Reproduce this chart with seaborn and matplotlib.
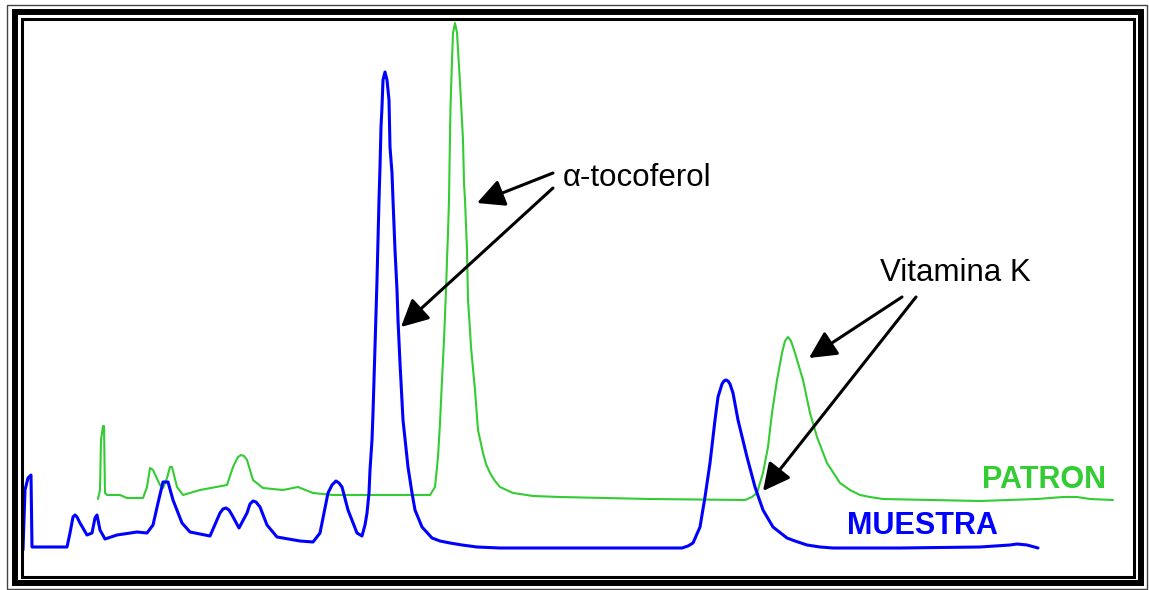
import matplotlib
matplotlib.use("Agg")
import matplotlib.pyplot as plt
from matplotlib.patches import Rectangle
import seaborn as sns
import pandas as pd

# Retention time (s) and detector response (mV) for the sample run
muestra_t = [23, 25, 28, 31, 32, 50, 67, 70, 73, 75, 77, 80, 87, 92, 95, 97, 100, 105, 117,
             137, 147, 153, 158, 163, 168, 173, 182, 190, 210, 220, 223, 226, 229, 232, 239,
             247, 250, 253, 256, 260, 267, 277, 300, 313, 320, 328, 332, 336, 339, 342, 348,
             357, 362, 365, 367, 369, 370, 372, 373, 375, 377, 379, 380, 381, 382, 383, 385,
             387, 389, 390, 392, 393, 395, 397, 398, 400, 403, 408, 412, 415, 422, 432, 440,
             450, 462, 477, 500, 560, 682, 688, 693, 700, 705, 710, 715, 718, 722, 724, 726,
             728, 730, 733, 738, 747, 755, 763, 773, 787, 795, 807, 820, 833, 900, 980, 1010,
             1017, 1027, 1038]
muestra_r = [40, 100, 112, 115, 43, 43, 43, 57, 73, 75, 73, 67, 55, 57, 72, 75, 60, 51, 55,
             58, 57, 65, 87, 108, 108, 90, 67, 58, 54, 77, 81, 82, 80, 75, 62,
             77, 86, 89, 88, 83, 65, 53, 49, 48, 57, 97, 105, 109, 107, 103, 80,
             57, 54, 65, 77, 97, 120, 150, 177, 243, 310, 390, 423, 463, 483, 510, 518,
             510, 490, 443, 417, 390, 340, 300, 270, 227, 170, 123, 97, 80, 63, 52, 49,
             47, 45, 43, 42, 42, 42, 44, 47, 63, 93, 127, 170, 193, 206, 209, 210,
             209, 206, 197, 170, 133, 103, 80, 63, 52, 49, 45, 43, 42, 42, 43, 45,
             46, 45, 42]

# Retention time (s) and detector response (mV) for the standard run
patron_t = [98, 100, 101, 103, 104, 105, 107, 120, 127, 143, 147, 150, 153, 160, 163, 167,
            170, 172, 177, 183, 200, 227, 233, 238, 241, 244, 247, 253, 263, 283, 298, 313,
            333, 400, 430, 435, 438, 440, 442, 444, 446, 447, 448, 449, 449.5, 450.5, 452,
            453, 455, 457, 460, 463, 464, 465, 467, 468, 470, 471, 475, 478, 483, 486, 490,
            495, 500, 513, 520, 533, 560, 650, 745, 752, 757, 763, 768, 772, 777, 782, 785,
            788, 791, 795, 803, 810, 817, 827, 840, 850, 860, 870, 883, 980, 1037, 1063,
            1077, 1090, 1113]
patron_r = [91, 100, 150, 164, 164, 97, 95, 95, 92, 92, 103, 122, 120, 105, 102, 112,
            123, 123, 103, 95, 100, 105, 123, 133, 135, 134, 130, 110, 102, 100, 103, 97,
            95, 95, 95, 103, 133, 167, 210, 250, 300, 330, 357, 390, 423, 483, 530,
            557, 567, 557, 507, 450, 407, 390, 340, 290, 260, 243, 200, 160, 137, 126, 117,
            109, 103, 97, 96, 94, 93, 91, 90, 93, 97, 117, 143, 177, 210, 237, 249,
            253, 249, 237, 210, 177, 153, 127, 107, 100, 95, 93, 91, 89, 91, 93,
            93, 91, 90]

peak_labels = ["α-tocoferol", "Vitamina K"]
series_labels = ["PATRON", "MUESTRA"]

BLUE = "#0000ff"
GREEN = "#33cc33"

sns.set_style("white")
plt.rcParams["font.family"] = ["Liberation Sans", "DejaVu Sans"]
plt.rcParams["text.color"] = "black"

W, H = 1149, 590
fig = plt.figure(figsize=(W / 100, H / 100), dpi=100)
fig.patch.set_facecolor("white")
ax = fig.add_axes([0, 0, 1, 1])
ax.set_xlim(0, W)
ax.set_ylim(0, H)
ax.axis("off")

df_m = pd.DataFrame({"t": muestra_t, "r": muestra_r})
df_p = pd.DataFrame({"t": patron_t, "r": patron_r})
sns.lineplot(data=df_p, x="t", y="r", ax=ax, color=GREEN, lw=1.5,
             sort=False, estimator=None)
sns.lineplot(data=df_m, x="t", y="r", ax=ax, color=BLUE, lw=2.2,
             sort=False, estimator=None)

# peak annotations
arrow = dict(arrowstyle="-|>,head_length=0.75,head_width=0.38", color="black",
             lw=2.2, mutation_scale=22, shrinkA=0, shrinkB=0)
ax.text(563, 404, peak_labels[0], fontsize=22.5, va="baseline", ha="left",
        color="black")
ax.annotate("", xy=(477, 387), xytext=(553, 417), arrowprops=arrow)
ax.annotate("", xy=(401, 263), xytext=(553, 402), arrowprops=arrow)

ax.text(880, 309, peak_labels[1], fontsize=22.5, va="baseline", ha="left",
        color="black")
ax.annotate("", xy=(809, 232), xytext=(902, 293), arrowprops=arrow)
ax.annotate("", xy=(763, 99), xytext=(916, 293), arrowprops=arrow)

ax.text(982, 102, series_labels[0], fontsize=22, fontweight="bold", color=GREEN,
        va="baseline", ha="left")
ax.text(847, 56, series_labels[1], fontsize=22, fontweight="bold", color=BLUE,
        va="baseline", ha="left")


# decorative multi-line frame (pixel box -> figure fraction)
def frame(left, top, right, bottom, lw, color):
    fig.add_artist(Rectangle((left / W, 1 - bottom / H), (right - left) / W,
                             (bottom - top) / H, transform=fig.transFigure,
                             fill=False, lw=lw, ec=color, joinstyle="miter"))


frame(7, 4.5, 1146.5, 588.5, 1.0, "#444444")
frame(15, 12, 1140.5, 583, 4.3, "black")
frame(21.5, 19, 1134, 576.5, 2.2, "black")

fig.savefig("out.png", dpi=100, facecolor="white")
